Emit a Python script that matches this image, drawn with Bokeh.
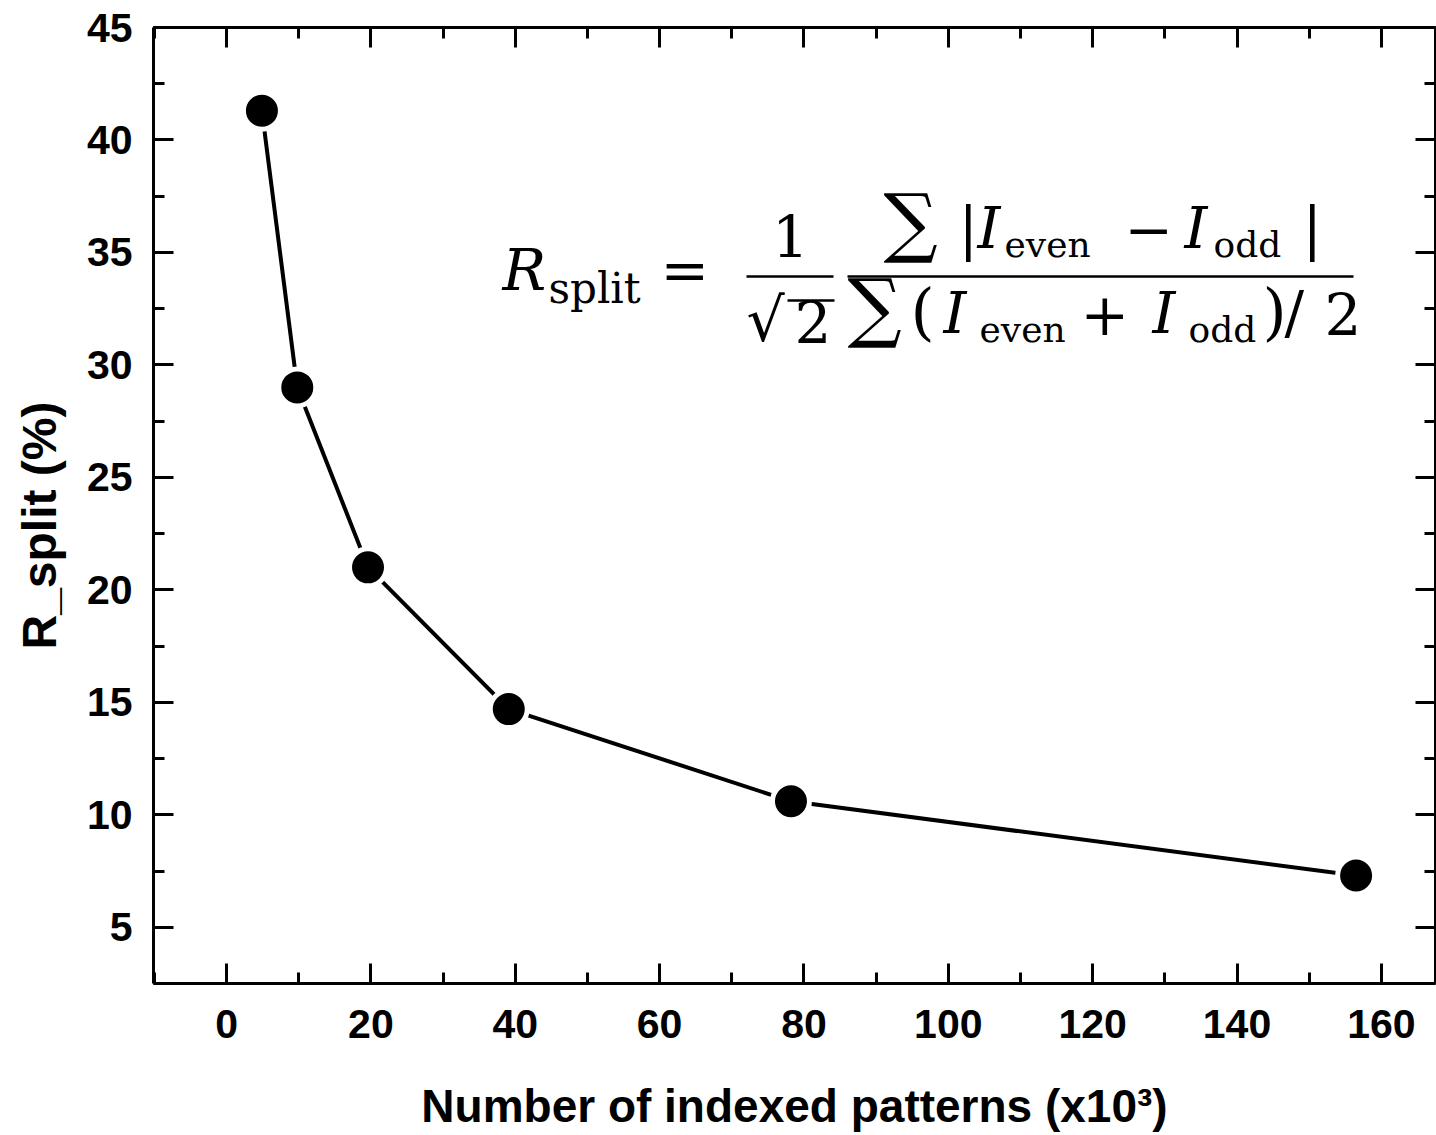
from bokeh.plotting import figure
from bokeh.models import LinearAxis, SingleIntervalTicker, Label, BoxAnnotation, Range1d, ColumnDataSource
from bokeh.embed import file_html
from bokeh.resources import INLINE

# ---- data ----
patterns_k = [4.9, 9.8, 19.6, 39.1, 78.2, 156.5]   # number of indexed patterns (x10^3)
r_split = [41.3, 29.0, 21.0, 14.7, 10.6, 7.3]       # R_split (%)
x_title = "Number of indexed patterns (x10\u00b3)"
y_title = "R_split (%)"

W, H = 1436, 1135
FL, FB = 153, 983   # frame left / frame bottom in canvas pixels (for annotation placement)

p = figure(width=W, height=H, output_backend="svg", toolbar_location=None,
           x_range=Range1d(-10.12, 167.5), y_range=Range1d(2.5, 45),
           x_axis_location=None, y_axis_location=None,
           min_border_left=FL, min_border_right=1, min_border_top=27, min_border_bottom=H - FB)
p.xgrid.visible = False
p.ygrid.visible = False
p.outline_line_color = None
p.background_fill_color = "white"
p.border_fill_color = "white"

def style(ax, labels=True):
    ax.axis_line_width = 3
    ax.axis_line_color = "black"
    ax.major_tick_line_width = 3
    ax.minor_tick_line_width = 3
    ax.major_tick_line_color = "black"
    ax.minor_tick_line_color = "black"
    ax.major_tick_in = 20
    ax.major_tick_out = 0
    ax.minor_tick_in = 11
    ax.minor_tick_out = 0
    ax.major_label_text_font = "Liberation Sans"
    ax.major_label_text_font_style = "bold"
    ax.axis_label_text_font = "Liberation Sans"
    ax.axis_label_text_font_style = "bold"
    ax.axis_label_text_color = "black"
    if labels:
        ax.major_label_text_font_size = "41px"
        ax.major_label_text_color = "black"
    else:
        # mirror axes: ticks only, labels not drawn
        ax.major_label_text_font_size = "1px"
        ax.major_label_text_color = None
        ax.major_label_standoff = 0
        ax.axis_label = None

xb = LinearAxis(ticker=SingleIntervalTicker(interval=20, num_minor_ticks=2), axis_label=x_title)
style(xb)
xb.axis_label_text_font_size = "46px"
xb.major_label_standoff = 26
xb.axis_label_standoff = 39
p.add_layout(xb, "below")

xt = LinearAxis(ticker=SingleIntervalTicker(interval=20, num_minor_ticks=2))
style(xt, labels=False)
p.add_layout(xt, "above")

# trailing no-break spaces nudge the centred title a little below the frame centre, as in the reference
yl = LinearAxis(ticker=SingleIntervalTicker(interval=5, num_minor_ticks=2),
                axis_label=y_title + "\u00a0\u00a0\u00a0")
style(yl)
yl.axis_label_text_font_size = "48px"
yl.major_label_standoff = 21
yl.axis_label_standoff = 18
p.add_layout(yl, "left")

yr = LinearAxis(ticker=SingleIntervalTicker(interval=5, num_minor_ticks=2))
style(yr, labels=False)
p.add_layout(yr, "right")

src = ColumnDataSource(dict(x=patterns_k, y=r_split))
p.line("x", "y", source=src, line_width=4, line_color="black")
p.scatter("x", "y", source=src, size=37, fill_color="black", line_color="white", line_width=5)

# ---- formula: R_split = 1/sqrt(2) * sum|I_even - I_odd| / sum(I_even + I_odd)/2 ----
BIG, SUB, SUB2, SIG, PAR = 58, 42, 36, 76, 62
SERIF = "DejaVu Serif"
# (text, canvas_x, canvas_baseline_y, size, style, align)
pieces = [
    ("R", 502, 292, BIG, "italic", "left"),
    ("split", 548, 304, SUB, "normal", "left"),
    ("=", 660, 292, BIG, "normal", "left"),
    ("1", 790, 257, BIG, "normal", "center"),
    ("\u221a", 746, 343, 60, "normal", "left"),
    ("2", 794, 343, BIG, "normal", "left"),
    # numerator
    ("\u2211", 883, 250, SIG, "normal", "left"),
    ("|", 958, 250, BIG, "normal", "left"),
    ("I", 977, 250, BIG, "italic", "left"),
    ("even", 1004, 258, SUB2, "normal", "left"),
    ("\u2212", 1124, 250, BIG, "normal", "left"),
    ("I", 1184, 250, BIG, "italic", "left"),
    ("odd", 1213, 258, SUB2, "normal", "left"),
    ("|", 1302, 250, BIG, "normal", "left"),
    # denominator
    ("\u2211", 847, 335, SIG, "normal", "left"),
    ("(", 910, 335, PAR, "normal", "left"),
    ("I", 943, 335, BIG, "italic", "left"),
    ("even", 979, 343, SUB2, "normal", "left"),
    ("+", 1080, 335, BIG, "normal", "left"),
    ("I", 1152, 335, BIG, "italic", "left"),
    ("odd", 1188, 343, SUB2, "normal", "left"),
    (")", 1262, 335, PAR, "normal", "left"),
    ("/", 1284, 335, BIG, "normal", "left"),
    ("2", 1324, 335, BIG, "normal", "left"),
]
for t, cx, cy, sz, st, al in pieces:
    p.add_layout(Label(x=cx - FL, y=FB - cy + 0.385 * sz, x_units="screen", y_units="screen", text=t,
                       text_font=SERIF, text_font_size=f"{sz}px", text_font_style=st,
                       text_color="black", text_align=al, text_baseline="alphabetic"))

# fraction bars and the radical's vinculum: (left, right, center_y, thickness) in canvas px
bars = [(746, 833, 276, 2.6), (847, 1353, 276, 2.6), (787, 834, 300, 2.4)]
for l, r, yy, th in bars:
    p.add_layout(BoxAnnotation(left=l - FL, right=r - FL, top=FB - yy + th / 2, bottom=FB - yy - th / 2,
                               left_units="screen", right_units="screen", top_units="screen",
                               bottom_units="screen", fill_color="black", fill_alpha=1,
                               line_color=None))

open("out.html", "w").write(file_html(p, INLINE))
